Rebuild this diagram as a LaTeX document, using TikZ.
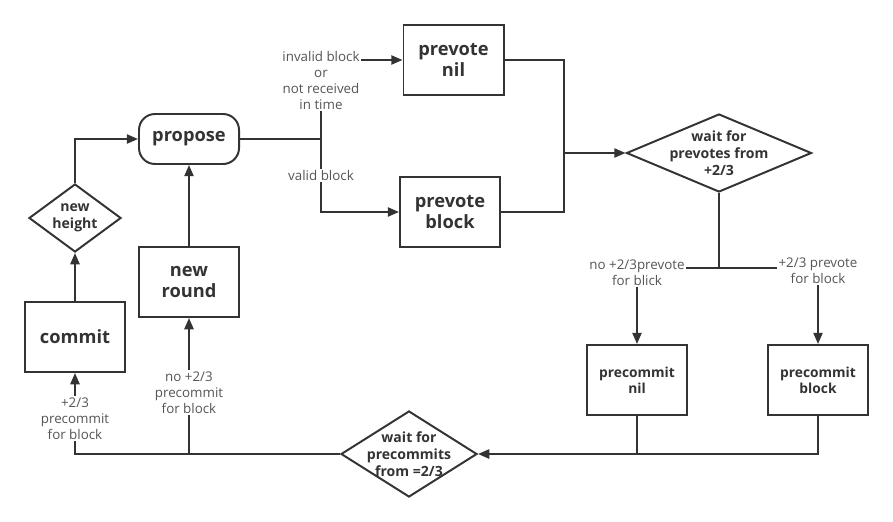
\documentclass[tikz,border=0pt]{standalone}
\usepackage{fontspec}
\setmainfont{Open Sans}
\usetikzlibrary{arrows.meta,shapes.geometric,positioning}
\definecolor{ink}{HTML}{333333}
\definecolor{note}{HTML}{555555}

\begin{document}
\begin{tikzpicture}[x=0.025cm, y=-0.025cm, line width=1.4pt, color=ink, state/.style={draw, rectangle, minimum width=2.5cm, minimum height=1.75cm, align=center, font=\bfseries\fontsize{13}{14.5}\selectfont}, small/.style={state, font=\bfseries\fontsize{9.8}{11.4}\selectfont}, dec/.style={draw, diamond, inner sep=0pt}, dtext/.style={align=center, font=\bfseries\fontsize{10}{12}\selectfont}, lab/.style={fill=white, text=note, align=center, inner sep=1pt, font=\fontsize{9.5}{11.4}\selectfont}, arr/.style={-{Triangle[length=8pt,width=6.5pt]}}]

\useasboundingbox (0,0) rectangle (893,521);

% states
\node[state, rounded corners=0.4cm, minimum height=1.25cm] (prop) at (189,139) {propose};
\node[state] (pvnil) at (453.5,60) {prevote\\nil};
\node[state] (pvblk) at (450,212) {prevote\\block};
\node[state] (rnd) at (189,282) {new\\round};
\node[state] (cmt) at (75,337) {commit};
\node[small] (pcnil) at (637,380) {precommit\\nil};
\node[small] (pcblk) at (818,380) {precommit\\block};

% decisions
\node[dec, minimum width=2.3cm, minimum height=1.7cm, label={[dtext]center:{new\\height}}] (hgt) at (75,218) {};
\node[dec, minimum width=4.625cm, minimum height=1.95cm, label={[dtext]center:{wait for\\prevotes from\\+2/3}}] (wpv) at (719,153) {};
\node[dec, minimum width=3.4cm, minimum height=2.15cm, label={[dtext]center:{wait for\\precommits\\from =2/3}}] (wpc) at (409,454) {};

\coordinate (split) at (321,139);
\coordinate (join) at (564,153);
\coordinate (pvsplit) at (719,268);
\coordinate (pcjoin) at (pcnil |- wpc);

% connectors
\draw (prop) -- (split);
\draw[arr] (split) |- node[lab, pos=0.37] {invalid block\\or\\not received\\in time} (pvnil);
\draw[arr] (split) |- node[lab, pos=0.25] {valid block} (pvblk);
\draw (pvnil) -| (join);
\draw (pvblk) -| (join);
\draw[arr] (join) -- (wpv);
\draw (wpv) -- (pvsplit);
\draw[arr] (pvsplit) -| node[lab, pos=0.53] {no +2/3prevote\\for blick} (pcnil);
\draw[arr] (pvsplit) -| node[lab, pos=0.52] {+2/3 prevote\\for block} (pcblk);
\draw (pcblk) |- (pcjoin);
\draw[arr] (pcnil) |- (wpc);
\draw[arr] (wpc) -| node[lab, pos=0.726] {no +2/3\\precommit\\for block} (rnd);
\draw[arr] (wpc) -| node[lab, pos=0.72] {+2/3\\precommit\\for block} (cmt);
\draw[arr] (cmt) -- (hgt);
\draw[arr] (hgt) |- (prop);
\draw[arr] (rnd) -- (prop);
\end{tikzpicture}
\end{document}
